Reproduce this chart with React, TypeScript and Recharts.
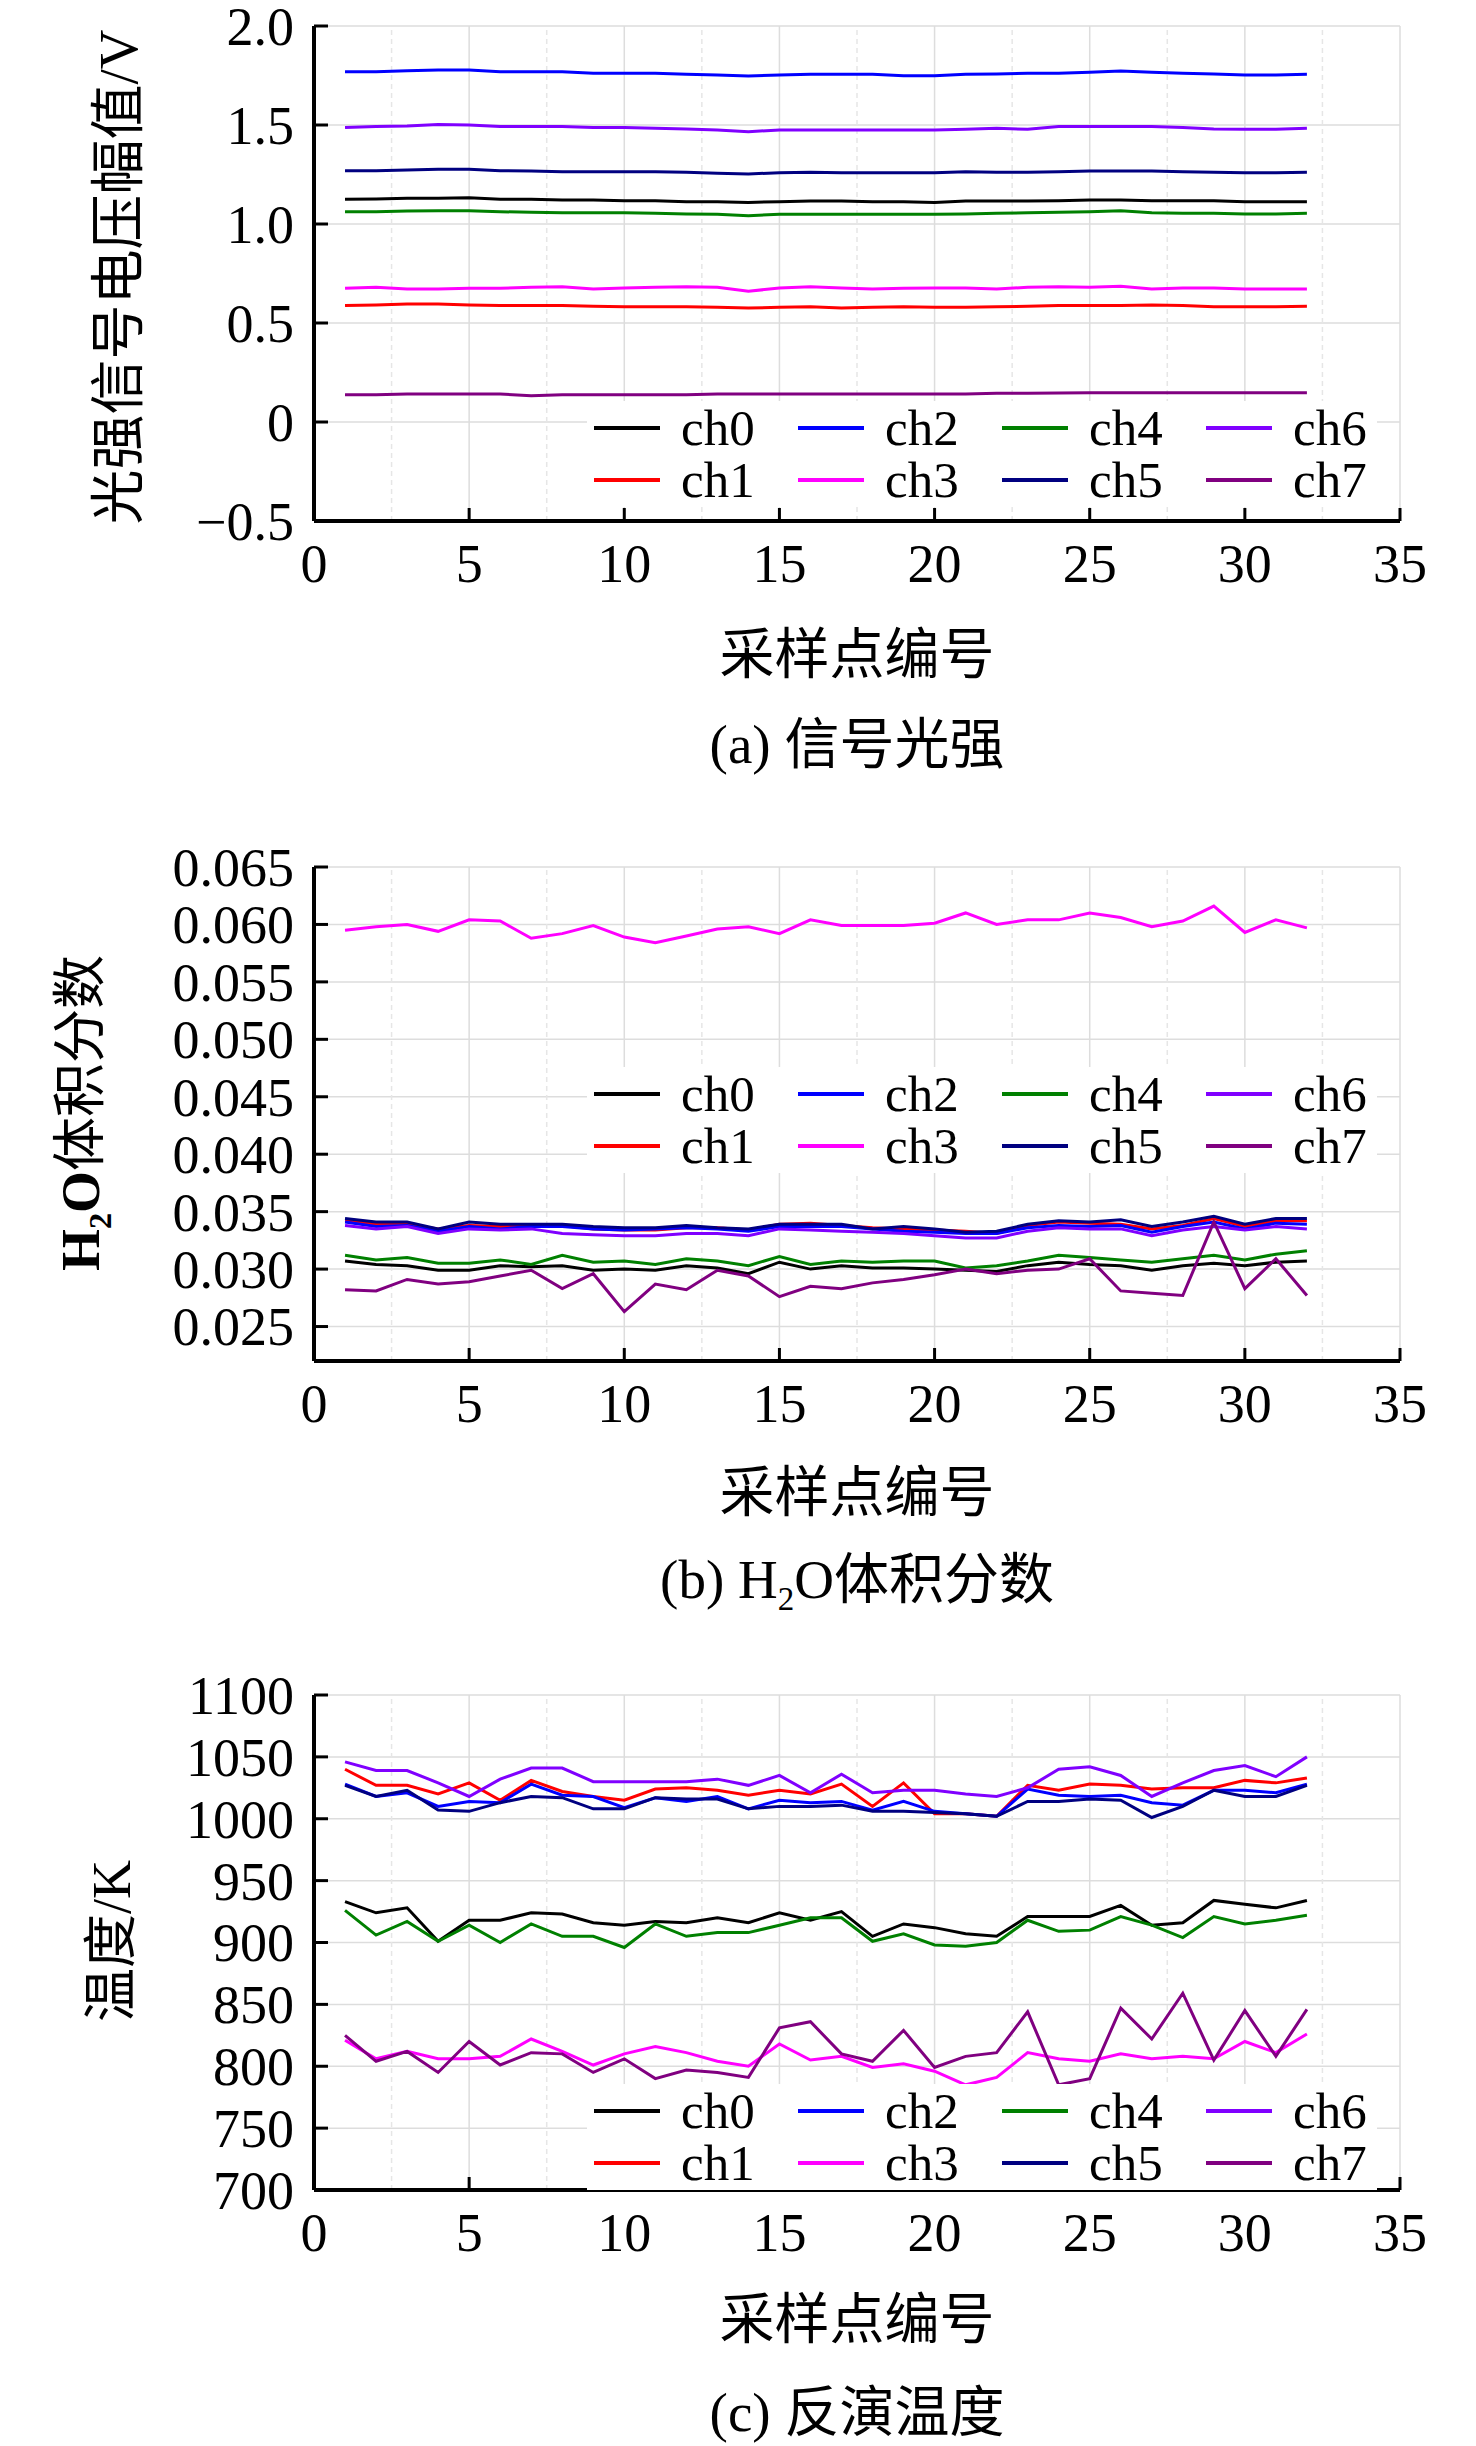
import React from "react";
import { LineChart, Line, XAxis, YAxis, CartesianGrid, ReferenceLine, Legend } from "recharts";

const SERIF = "'Liberation Serif', 'Times New Roman', 'Noto Sans CJK SC', serif";

const samples = [1, 2, 3, 4, 5, 6, 7, 8, 9, 10, 11, 12, 13, 14, 15, 16, 17, 18, 19, 20, 21, 22, 23, 24, 25, 26, 27, 28, 29, 30, 31, 32];
const xTicks = [0, 5, 10, 15, 20, 25, 30, 35];
const minorTicks = [2.5, 7.5, 12.5, 17.5, 22.5, 27.5, 32.5];
const channels = ["ch0", "ch1", "ch2", "ch3", "ch4", "ch5", "ch6", "ch7"];
const colors = ["#000000", "#ff0000", "#0000ff", "#ff00ff", "#008000", "#000080", "#8000ff", "#800080"];

// (a) signal voltage amplitude, V
const signalTicks = [-0.5, 0, 0.5, 1.0, 1.5, 2.0];
const signalCh0 = [1.125, 1.126, 1.13, 1.13, 1.133, 1.125, 1.125, 1.121, 1.121, 1.118, 1.118, 1.113, 1.113, 1.109, 1.113, 1.116, 1.116, 1.113, 1.113, 1.108, 1.116, 1.116, 1.116, 1.118, 1.121, 1.121, 1.118, 1.118, 1.118, 1.113, 1.113, 1.113];
const signalCh1 = [0.588, 0.591, 0.596, 0.596, 0.591, 0.588, 0.588, 0.588, 0.584, 0.582, 0.582, 0.582, 0.579, 0.576, 0.579, 0.582, 0.576, 0.579, 0.582, 0.579, 0.579, 0.582, 0.584, 0.588, 0.588, 0.588, 0.591, 0.588, 0.582, 0.582, 0.582, 0.584];
const signalCh2 = [1.769, 1.769, 1.774, 1.778, 1.778, 1.769, 1.769, 1.769, 1.761, 1.761, 1.761, 1.756, 1.753, 1.747, 1.753, 1.756, 1.756, 1.756, 1.749, 1.749, 1.756, 1.758, 1.761, 1.761, 1.766, 1.773, 1.766, 1.761, 1.758, 1.753, 1.753, 1.756];
const signalCh3 = [0.675, 0.68, 0.672, 0.672, 0.675, 0.675, 0.68, 0.683, 0.672, 0.677, 0.68, 0.683, 0.68, 0.66, 0.677, 0.683, 0.677, 0.672, 0.675, 0.677, 0.677, 0.672, 0.68, 0.683, 0.68, 0.685, 0.672, 0.677, 0.677, 0.672, 0.672, 0.672];
const signalCh4 = [1.062, 1.062, 1.066, 1.067, 1.067, 1.062, 1.059, 1.057, 1.057, 1.057, 1.054, 1.051, 1.049, 1.042, 1.049, 1.049, 1.049, 1.049, 1.049, 1.049, 1.051, 1.054, 1.057, 1.059, 1.062, 1.067, 1.057, 1.054, 1.054, 1.051, 1.051, 1.054];
const signalCh5 = [1.269, 1.269, 1.273, 1.276, 1.276, 1.269, 1.268, 1.264, 1.264, 1.264, 1.264, 1.261, 1.256, 1.253, 1.259, 1.261, 1.259, 1.259, 1.259, 1.259, 1.264, 1.261, 1.261, 1.264, 1.268, 1.268, 1.268, 1.264, 1.261, 1.259, 1.259, 1.261];
const signalCh6 = [1.488, 1.492, 1.495, 1.503, 1.5, 1.492, 1.492, 1.492, 1.488, 1.487, 1.483, 1.48, 1.475, 1.466, 1.475, 1.475, 1.475, 1.475, 1.475, 1.475, 1.478, 1.483, 1.478, 1.492, 1.492, 1.492, 1.492, 1.487, 1.48, 1.478, 1.478, 1.483];
const signalCh7 = [0.138, 0.138, 0.141, 0.141, 0.141, 0.141, 0.133, 0.138, 0.138, 0.138, 0.138, 0.138, 0.141, 0.141, 0.141, 0.141, 0.141, 0.141, 0.141, 0.141, 0.141, 0.145, 0.145, 0.146, 0.148, 0.148, 0.148, 0.148, 0.148, 0.148, 0.148, 0.148];

// (b) H2O volume fraction
const h2oTicks = [0.025, 0.03, 0.035, 0.04, 0.045, 0.05, 0.055, 0.06, 0.065];
const h2oCh0 = [0.0307, 0.0304, 0.0303, 0.0299, 0.0299, 0.0303, 0.0302, 0.0303, 0.0299, 0.03, 0.0299, 0.0303, 0.0301, 0.0296, 0.0306, 0.03, 0.0303, 0.0301, 0.0301, 0.03, 0.0299, 0.0298, 0.0303, 0.0306, 0.0304, 0.0303, 0.0299, 0.0303, 0.0305, 0.0303, 0.0306, 0.0307];
const h2oCh1 = [0.0342, 0.0339, 0.0339, 0.0335, 0.0338, 0.0337, 0.0337, 0.0338, 0.0335, 0.0334, 0.0334, 0.0336, 0.0336, 0.0334, 0.0339, 0.034, 0.0338, 0.0336, 0.0335, 0.0334, 0.0333, 0.0331, 0.0338, 0.0341, 0.034, 0.0339, 0.0335, 0.0338, 0.0344, 0.0337, 0.0342, 0.0342];
const h2oCh2 = [0.0341, 0.0337, 0.0338, 0.0333, 0.0337, 0.0335, 0.0337, 0.0337, 0.0335, 0.0334, 0.0335, 0.0336, 0.0335, 0.0333, 0.0337, 0.0337, 0.0337, 0.0335, 0.0333, 0.0332, 0.0331, 0.0331, 0.0336, 0.0338, 0.0337, 0.0338, 0.0332, 0.0337, 0.0341, 0.0335, 0.034, 0.0339];
const h2oCh3 = [0.0595, 0.0598, 0.06, 0.0594, 0.0604, 0.0603, 0.0588, 0.0592, 0.0599, 0.0589, 0.0584, 0.059, 0.0596, 0.0598, 0.0592, 0.0604, 0.0599, 0.0599, 0.0599, 0.0601, 0.061, 0.06, 0.0604, 0.0604, 0.061, 0.0606, 0.0598, 0.0603, 0.0616, 0.0593, 0.0604, 0.0597];
const h2oCh4 = [0.0312, 0.0308, 0.031, 0.0305, 0.0305, 0.0308, 0.0304, 0.0312, 0.0306, 0.0307, 0.0304, 0.0309, 0.0307, 0.0303, 0.0311, 0.0304, 0.0307, 0.0306, 0.0307, 0.0307, 0.0301, 0.0303, 0.0307, 0.0312, 0.031, 0.0308, 0.0306, 0.0309, 0.0312, 0.0308, 0.0313, 0.0316];
const h2oCh5 = [0.0344, 0.0341, 0.0341, 0.0335, 0.0341, 0.0339, 0.0339, 0.0339, 0.0337, 0.0336, 0.0336, 0.0338, 0.0336, 0.0335, 0.0339, 0.0339, 0.0339, 0.0335, 0.0337, 0.0335, 0.0332, 0.0333, 0.0339, 0.0342, 0.0341, 0.0343, 0.0337, 0.0341, 0.0346, 0.0339, 0.0344, 0.0344];
const h2oCh6 = [0.0338, 0.0335, 0.0337, 0.0331, 0.0335, 0.0334, 0.0335, 0.0331, 0.033, 0.0329, 0.0329, 0.0331, 0.0331, 0.0329, 0.0335, 0.0334, 0.0333, 0.0332, 0.0331, 0.0329, 0.0327, 0.0327, 0.0333, 0.0336, 0.0335, 0.0335, 0.0329, 0.0334, 0.0337, 0.0334, 0.0337, 0.0335];
const h2oCh7 = [0.0282, 0.0281, 0.0291, 0.0287, 0.0289, 0.0294, 0.0299, 0.0283, 0.0296, 0.0263, 0.0287, 0.0282, 0.0299, 0.0294, 0.0276, 0.0285, 0.0283, 0.0288, 0.0291, 0.0295, 0.03, 0.0296, 0.0299, 0.03, 0.0309, 0.0281, 0.0279, 0.0277, 0.0341, 0.0283, 0.0309, 0.0277];

// (c) retrieved temperature, K
const tempTicks = [700, 750, 800, 850, 900, 950, 1000, 1050, 1100];
const tempCh0 = [933, 924, 928, 901, 918, 918, 924, 923, 916, 914, 917, 916, 920, 916, 924, 918, 925, 905, 915, 912, 907, 905, 921, 921, 921, 930, 914, 916, 934, 931, 928, 934];
const tempCh1 = [1040, 1027, 1027, 1020, 1029, 1015, 1031, 1022, 1018, 1015, 1024, 1025, 1023, 1019, 1023, 1020, 1028, 1010, 1029, 1004, 1004, 1002, 1027, 1023, 1028, 1027, 1024, 1025, 1025, 1031, 1029, 1033];
const tempCh2 = [1028, 1018, 1021, 1010, 1014, 1013, 1028, 1019, 1018, 1009, 1017, 1014, 1018, 1008, 1015, 1013, 1014, 1007, 1014, 1006, 1004, 1002, 1024, 1019, 1018, 1019, 1013, 1011, 1023, 1023, 1021, 1028];
const tempCh3 = [821, 806, 812, 806, 806, 808, 822, 812, 801, 810, 816, 811, 804, 800, 818, 805, 808, 799, 802, 796, 785, 791, 811, 806, 804, 810, 806, 808, 806, 820, 811, 826];
const tempCh4 = [926, 906, 917, 901, 914, 900, 915, 905, 905, 896, 915, 905, 908, 908, 914, 920, 920, 901, 907, 898, 897, 900, 918, 909, 910, 921, 914, 904, 921, 915, 918, 922];
const tempCh5 = [1027, 1018, 1023, 1007, 1006, 1013, 1018, 1017, 1008, 1008, 1017, 1016, 1016, 1008, 1010, 1010, 1011, 1006, 1006, 1005, 1004, 1002, 1014, 1014, 1016, 1015, 1001, 1010, 1023, 1018, 1018, 1027];
const tempCh6 = [1046, 1039, 1039, 1029, 1018, 1032, 1041, 1041, 1030, 1030, 1030, 1030, 1032, 1027, 1035, 1021, 1036, 1021, 1023, 1023, 1020, 1018, 1025, 1040, 1042, 1035, 1018, 1029, 1039, 1043, 1034, 1050];
const tempCh7 = [825, 804, 812, 795, 820, 801, 811, 810, 795, 806, 790, 797, 795, 791, 831, 836, 810, 804, 829, 799, 808, 811, 844, 785, 790, 847, 822, 859, 805, 845, 808, 846];

const makeRows = (series: number[][]) =>
  samples.map((x, i) => {
    const row: Record<string, number> = { x };
    series.forEach((s, k) => {
      row[channels[k]] = s[i];
    });
    return row;
  });

const signalRows = makeRows([signalCh0, signalCh1, signalCh2, signalCh3, signalCh4, signalCh5, signalCh6, signalCh7]);
const h2oRows = makeRows([h2oCh0, h2oCh1, h2oCh2, h2oCh3, h2oCh4, h2oCh5, h2oCh6, h2oCh7]);
const tempRows = makeRows([tempCh0, tempCh1, tempCh2, tempCh3, tempCh4, tempCh5, tempCh6, tempCh7]);

const W = 1476;
const H = 640;
const PLOT_LEFT = 314;
const PLOT_RIGHT = 1400;
const X_GAP = 42;
const Y_GAP = 20;
const FS = 54;
const LEGEND_FS = 51;
const FRAME = 4;

const XTick = (props: any) => {
  const { x, y, payload } = props;
  const axisY = y - X_GAP;
  return (
    <g>
      <line x1={x} y1={axisY} x2={x} y2={axisY - 13} stroke="#000" strokeWidth={3} />
      <text x={x} y={y} dy="0.35em" textAnchor="middle" fontSize={FS} fontFamily={SERIF} fill="#000">
        {payload.value}
      </text>
    </g>
  );
};

const makeYTick = (fmt: (v: number) => string) => (props: any) => {
  const { x, y, payload } = props;
  const axisX = x + Y_GAP;
  return (
    <g>
      <line x1={axisX} y1={y} x2={axisX + 14} y2={y} stroke="#000" strokeWidth={3} />
      <text x={x} y={y} dy="0.35em" textAnchor="end" fontSize={FS} fontFamily={SERIF} fill="#000">
        {fmt(payload.value)}
      </text>
    </g>
  );
};

const renderLegend = (props: any) => {
  const items = [...(props.payload || [])].sort((a: any, b: any) => String(a.value).localeCompare(String(b.value)));
  return (
    <div
      style={{
        display: "grid",
        gridTemplateRows: "52px 52px",
        gridAutoFlow: "column",
        gridAutoColumns: "204px",
        background: "#fff",
        padding: "1px 0 1px 7px",
        fontFamily: SERIF,
        fontSize: LEGEND_FS,
        lineHeight: 1,
        color: "#000",
      }}
    >
      {items.map((e: any) => (
        <div key={e.value} style={{ display: "flex", alignItems: "center", height: 52 }}>
          <span style={{ display: "inline-block", width: 66, height: 4, background: e.color, marginRight: 21 }} />
          <span>{e.value}</span>
        </div>
      ))}
    </div>
  );
};

function Panel({
  top,
  marginTop,
  plotH,
  data,
  domain,
  ticks,
  fmt,
  legendTop,
}: {
  top: number;
  marginTop: number;
  plotH: number;
  data: Record<string, number>[];
  domain: [number, number];
  ticks: number[];
  fmt: (v: number) => string;
  legendTop: number;
}) {
  return (
    <div style={{ position: "absolute", left: 0, top }}>
      <LineChart width={W} height={H} data={data} margin={{ top: marginTop, right: W - PLOT_RIGHT, left: 0, bottom: 0 }}>
        <CartesianGrid stroke="#dddddd" strokeWidth={1.5} />
        {minorTicks.map((m) => (
          <ReferenceLine key={m} x={m} stroke="#e6e6e6" strokeWidth={1.5} strokeDasharray="5 4" />
        ))}
        <XAxis
          dataKey="x"
          type="number"
          domain={[0, 35]}
          ticks={xTicks}
          height={H - marginTop - plotH}
          tickSize={0}
          tickMargin={X_GAP}
          tick={XTick}
          axisLine={{ stroke: "#000", strokeWidth: FRAME }}
          tickLine={false}
        />
        <XAxis xAxisId="top" orientation="top" type="number" domain={[0, 35]} height={0} tick={false} tickLine={false} axisLine={{ stroke: "#000", strokeWidth: FRAME }} />
        <YAxis
          type="number"
          domain={domain}
          ticks={ticks}
          width={PLOT_LEFT}
          tickSize={0}
          tickMargin={Y_GAP}
          tick={makeYTick(fmt)}
          axisLine={{ stroke: "#000", strokeWidth: FRAME }}
          tickLine={false}
          allowDataOverflow
        />
        <YAxis yAxisId="right" orientation="right" type="number" domain={domain} width={0} tick={false} tickLine={false} axisLine={{ stroke: "#000", strokeWidth: FRAME }} />
        {channels.map((ch, k) => (
          <Line
            key={ch}
            type="linear"
            dataKey={ch}
            name={ch}
            stroke={colors[k]}
            strokeWidth={3}
            dot={false}
            isAnimationActive={false}
          />
        ))}
        <Legend
          layout="horizontal"
          verticalAlign="middle"
          align="center"
          content={renderLegend}
          wrapperStyle={{ position: "absolute", left: 587, top: legendTop, width: 790, height: 106 }}
        />
      </LineChart>
    </div>
  );
}

const textBase: React.CSSProperties = {
  position: "absolute",
  transform: "translate(-50%, -50%)",
  whiteSpace: "nowrap",
  fontFamily: SERIF,
  lineHeight: 1,
  color: "#000",
};

const Centered = ({ x, y, size = 55, children }: { x: number; y: number; size?: number; children: React.ReactNode }) => (
  <div style={{ ...textBase, left: x, top: y, fontSize: size }}>{children}</div>
);

const Vertical = ({ x, y, size = 54, children }: { x: number; y: number; size?: number; children: React.ReactNode }) => (
  <div style={{ ...textBase, left: x, top: y, fontSize: size, transform: "translate(-50%, -50%) rotate(-90deg)" }}>{children}</div>
);

export default function App() {
  const cx = (PLOT_LEFT + PLOT_RIGHT) / 2;
  return (
    <div style={{ position: "absolute", left: 0, top: 0, width: W, height: 2446, background: "#fff", overflow: "hidden" }}>
      <Panel
        top={0}
        marginTop={26}
        plotH={495}
        data={signalRows}
        domain={[-0.5, 2]}
        ticks={signalTicks}
        fmt={(v) => (v === 0 ? "0" : v < 0 ? "\u2212" + Math.abs(v).toFixed(1) : v.toFixed(1))}
        legendTop={401}
      />
      <Vertical x={118} y={277} size={55}>光强信号电压幅值/V</Vertical>
      <Centered x={cx} y={654}>采样点编号</Centered>
      <Centered x={cx} y={744}>(a) 信号光强</Centered>

      <Panel
        top={820}
        marginTop={47}
        plotH={494}
        data={h2oRows}
        domain={[0.022, 0.065]}
        ticks={h2oTicks}
        fmt={(v) => v.toFixed(3)}
        legendTop={247}
      />
      <Vertical x={85} y={1113}>
        <b>H<sub style={{ fontSize: "0.6em" }}>2</sub>O</b>体积分数
      </Vertical>
      <Centered x={cx} y={1492}>采样点编号</Centered>
      <Centered x={cx} y={1584}>
        (b) H<sub style={{ fontSize: "0.6em" }}>2</sub>O体积分数
      </Centered>

      <Panel
        top={1640}
        marginTop={55}
        plotH={495}
        data={tempRows}
        domain={[700, 1100]}
        ticks={tempTicks}
        fmt={(v) => String(v)}
        legendTop={444}
      />
      <Vertical x={112} y={1941}>温度/K</Vertical>
      <Centered x={cx} y={2319}>采样点编号</Centered>
      <Centered x={cx} y={2412}>(c) 反演温度</Centered>
    </div>
  );
}
